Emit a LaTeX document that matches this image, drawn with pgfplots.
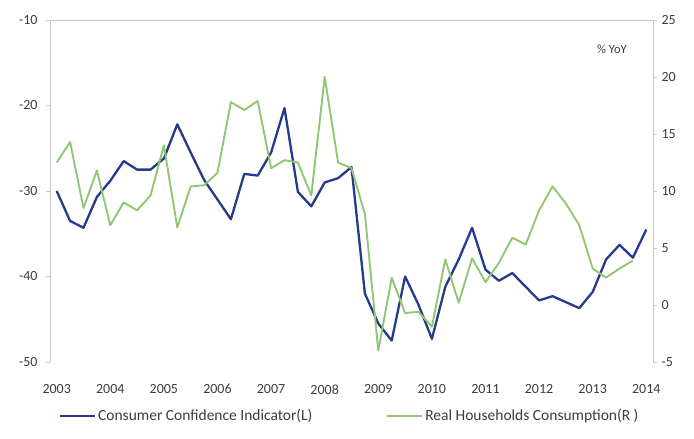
\documentclass[border=0pt]{standalone}
\usepackage{fontspec}
\setmainfont{Carlito}
\usepackage{pgfplots}
\pgfplotsset{compat=1.18}

\definecolor{ccblue}{RGB}{38,58,140}
\definecolor{rhgreen}{RGB}{145,198,115}
\definecolor{axgray}{RGB}{200,200,200}
\definecolor{txtgray}{RGB}{60,60,60}

% Consumer confidence indicator (left axis), quarterly 2003Q1--2014Q1
\pgfplotstableread{
x y
2003.00 -30.0
2003.25 -33.5
2003.50 -34.3
2003.75 -30.7
2004.00 -28.8
2004.25 -26.5
2004.50 -27.5
2004.75 -27.5
2005.00 -26.2
2005.25 -22.2
2005.50 -25.5
2005.75 -28.7
2006.00 -31.0
2006.25 -33.3
2006.50 -28.0
2006.75 -28.2
2007.00 -25.5
2007.25 -20.3
2007.50 -30.1
2007.75 -31.8
2008.00 -29.0
2008.25 -28.5
2008.50 -27.2
2008.75 -42.0
2009.00 -45.5
2009.25 -47.5
2009.50 -40.0
2009.75 -43.3
2010.00 -47.3
2010.25 -41.2
2010.50 -38.0
2010.75 -34.3
2011.00 -39.2
2011.25 -40.5
2011.50 -39.6
2011.75 -41.2
2012.00 -42.8
2012.25 -42.3
2012.50 -43.0
2012.75 -43.7
2013.00 -41.8
2013.25 -38.0
2013.50 -36.3
2013.75 -37.8
2014.00 -34.5
}\confidence

% Real households consumption, % YoY (right axis)
\pgfplotstableread{
x y
2003.00 12.5
2003.25 14.3
2003.50 8.5
2003.75 11.8
2004.00 7.0
2004.25 9.0
2004.50 8.3
2004.75 9.6
2005.00 14.0
2005.25 6.8
2005.50 10.4
2005.75 10.5
2006.00 11.6
2006.25 17.8
2006.50 17.1
2006.75 17.9
2007.00 12.0
2007.25 12.7
2007.50 12.5
2007.75 9.6
2008.00 20.0
2008.25 12.5
2008.50 12.0
2008.75 8.0
2009.00 -4.0
2009.25 2.4
2009.50 -0.7
2009.75 -0.6
2010.00 -1.9
2010.25 4.0
2010.50 0.2
2010.75 4.1
2011.00 2.0
2011.25 3.7
2011.50 5.9
2011.75 5.3
2012.00 8.3
2012.25 10.4
2012.50 8.9
2012.75 7.0
2013.00 3.2
2013.25 2.4
2013.50 3.2
2013.75 3.9
}\consumption

\begin{document}
\begin{tikzpicture}
\useasboundingbox (0,0) rectangle (694pt,439pt);

\pgfplotsset{
  common/.style={
    scale only axis,
    width=603pt, height=342pt,
    at={(50pt,77pt)}, anchor=south west,
    xmin=2002.875, xmax=2014.125,
    tick align=outside,
    major tick length=4pt,
    ticklabel style={font=\fontsize{14}{14}\selectfont, text=txtgray},
    /pgf/number format/assume math mode=true,
    y axis line style={draw=axgray, line width=0.8pt},
    ytick style={draw=axgray, line width=0.8pt},
    clip=false,
  },
}

\begin{axis}[
  common,
  ymin=-50, ymax=-10,
  ytick={-50,-40,...,-10},
  yticklabel style={xshift=-5pt},
  axis y line*=left,
  axis x line*=bottom,
  x axis line style={draw=none},
  xtick={2003,2004,...,2014},
  xtick style={draw=none},
  xticklabel style={/pgf/number format/1000 sep={}, yshift=-15pt},
  extra y ticks={-10},
  extra y tick labels={},
  extra y tick style={ymajorgrids=true, major grid style={draw=axgray, line width=0.8pt}, ytick style={draw=none}},
]
\addplot[ccblue, line width=2.3pt, line join=round] table[x=x, y=y] {\confidence};
\end{axis}

\begin{axis}[
  common,
  ymin=-5, ymax=25,
  ytick={-5,0,...,25},
  yticklabel style={xshift=1pt},
  axis y line*=right,
  axis x line=none,
  legend style={at={(0.497,-0.157)}, anchor=center, draw=none, fill=none,
    legend columns=2, font=\fontsize{15.5}{15.5}\selectfont\color{txtgray},
    /tikz/every even column/.append style={column sep=72pt}},
  legend cell align=left,
  legend image code/.code={\draw[#1] (0pt,0pt) -- (35pt,0pt);},
]
\addlegendimage{ccblue, line width=2.3pt}
\addlegendentry{Consumer Confidence Indicator(L)}
\addplot[rhgreen, line width=1.9pt, line join=round] table[x=x, y=y] {\consumption};
\addlegendentry{Real Households Consumption(R )}
\node[font=\fontsize{12.5}{12.5}\selectfont, text=txtgray] at (rel axis cs:0.932,0.915) {\% YoY};
\end{axis}
\end{tikzpicture}
\end{document}
